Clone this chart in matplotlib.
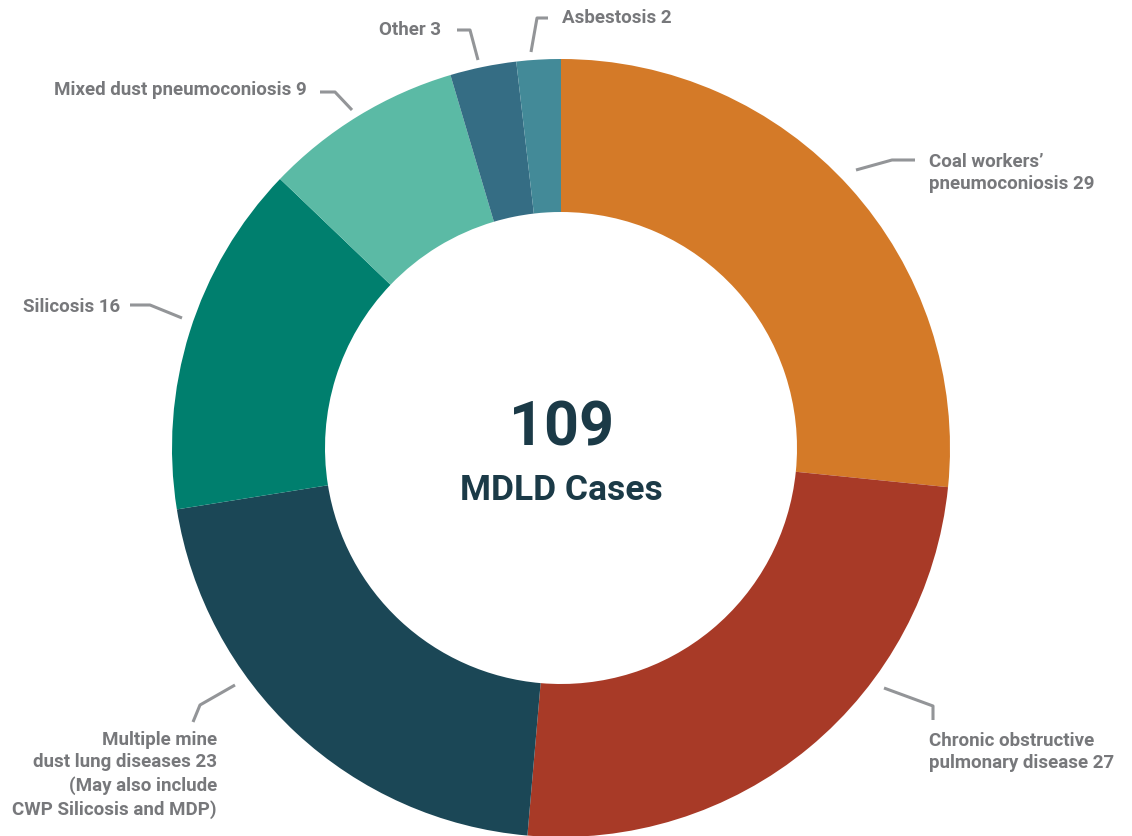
import numpy as np
import matplotlib.pyplot as plt

# data
labels = ["Coal workers’\npneumoconiosis 29",
          "Chronic obstructive\npulmonary disease 27",
          "Multiple mine\ndust lung diseases 23\n(May also include\nCWP Silicosis and MDP)",
          "Silicosis 16",
          "Mixed dust pneumoconiosis 9",
          "Other 3",
          "Asbestosis 2"]
values = [29, 27, 23, 16, 9, 3, 2]
colors = ["#D47A28", "#A83A27", "#1B4756", "#007F6E", "#5BBAA5", "#356D84", "#438A98"]
total = sum(values)

W, H = 1132, 836
fig = plt.figure(figsize=(W / 100, H / 100), dpi=100)
ax = fig.add_axes([0, 0, 1, 1])

cx, cy, R, r_in = 561, 448, 389, 236
# y axis flipped below, so counterclock=True reads clockwise on screen
wedges, _ = ax.pie(values, colors=colors, startangle=-90, counterclock=True,
                   center=(cx, cy), radius=R,
                   wedgeprops=dict(width=R - r_in, linewidth=0))
ax.set_xlim(0, W)
ax.set_ylim(H, 0)
ax.set_aspect('equal')
ax.axis('off')

font = 'Roboto'
grey = '#77787B'
line_c = '#939598'

# leader lines in screen pixels: start, elbow, end; then text anchor
leaders = [
    ([(856, 170), (892, 160), (915, 160)], (929, 173), 'left'),
    ([(884, 688), (933, 706), (933, 720)], (929, 752), 'left'),
    ([(235, 685), (200, 705), (193, 722)], (217, 775), 'right'),
    ([(182, 318), (150, 305), (130, 305)], (120, 307), 'right'),
    ([(352, 110), (335, 92), (320, 92)], (307, 90), 'right'),
    ([(478, 60), (470, 30), (457, 30)], (441, 30), 'right'),
    ([(531, 52), (537, 18), (548, 18)], (562, 18), 'left'),
]
for lab, (pts, tpos, ha) in zip(labels, leaders):
    xs, ys = zip(*pts)
    ax.plot(xs, ys, color=line_c, lw=2.2, solid_capstyle='butt')
    ax.text(tpos[0], tpos[1], lab, ha=ha, va='center', color=grey,
            fontsize=13.5, fontweight='semibold', family=font, linespacing=1.35,
            multialignment=ha)

ax.text(cx, 428, str(total), ha='center', va='center', color='#1B3A47',
        fontsize=44, fontweight='bold', family=font)
ax.text(cx, 490, "MDLD Cases", ha='center', va='center', color='#1B3A47',
        fontsize=25.5, fontweight='semibold', family=font)

fig.savefig('out.png', dpi=100)
